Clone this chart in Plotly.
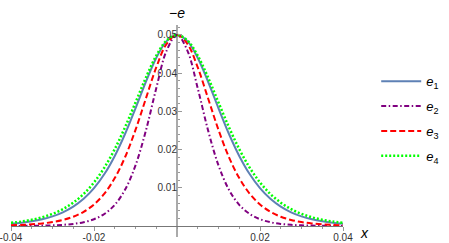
import plotly.graph_objects as go

x_vals = [-0.04, -0.0375, -0.035, -0.0325, -0.03, -0.0275, -0.025, -0.0225, -0.02, -0.0175,
          -0.015, -0.0125, -0.01, -0.0075, -0.005, -0.0025, 0.0, 0.0025, 0.005, 0.0075, 0.01,
          0.0125, 0.015, 0.0175, 0.02, 0.0225, 0.025, 0.0275, 0.03, 0.0325, 0.035, 0.0375, 0.04]

e1 = [0.00060, 0.00086, 0.00124, 0.00177, 0.00252, 0.00358, 0.00507, 0.00711, 0.00990, 0.01359,
      0.01834, 0.02414, 0.03080, 0.03772, 0.04397, 0.04839, 0.05, 0.04839, 0.04397, 0.03772,
      0.03080, 0.02414, 0.01834, 0.01359, 0.00990, 0.00711, 0.00507, 0.00358, 0.00252, 0.00177,
      0.00124, 0.00086, 0.00060]
e2 = [0.00002, 0.00003, 0.00005, 0.00010, 0.00017, 0.00031, 0.00055, 0.00099, 0.00178, 0.00315,
      0.00554, 0.00953, 0.01586, 0.02496, 0.03603, 0.04591, 0.05, 0.04591, 0.03603, 0.02496,
      0.01586, 0.00953, 0.00554, 0.00315, 0.00178, 0.00099, 0.00055, 0.00031, 0.00017, 0.00010,
      0.00005, 0.00003, 0.00002]
e3 = [0.00018, 0.00028, 0.00043, 0.00067, 0.00103, 0.00158, 0.00243, 0.00372, 0.00564, 0.00848,
      0.01253, 0.01806, 0.02515, 0.03336, 0.04149, 0.04767, 0.05, 0.04767, 0.04149, 0.03336,
      0.02515, 0.01806, 0.01253, 0.00848, 0.00564, 0.00372, 0.00243, 0.00158, 0.00103, 0.00067,
      0.00043, 0.00028, 0.00018]
e4 = [0.00083, 0.00116, 0.00163, 0.00228, 0.00318, 0.00442, 0.00611, 0.00838, 0.01140, 0.01529,
      0.02013, 0.02590, 0.03232, 0.03882, 0.04456, 0.04856, 0.05, 0.04856, 0.04456, 0.03882,
      0.03232, 0.02590, 0.02013, 0.01529, 0.01140, 0.00838, 0.00611, 0.00442, 0.00318, 0.00228,
      0.00163, 0.00116, 0.00083]

series_names = ["<i>e</i><sub>1</sub>", "<i>e</i><sub>2</sub>", "<i>e</i><sub>3</sub>", "<i>e</i><sub>4</sub>"]
series_values = [e1, e2, e3, e4]
series_colors = ["#5E81B5", "#800080", "#FF0000", "#00FF00"]
series_dash = ["solid", "5px,2.5px,1.5px,2.5px", "6px,3px", "2px,2px"]
series_width = [2, 2, 2, 2.5]

x_tick_vals = [-0.04, -0.02, 0.02, 0.04]
x_tick_text = ["-0.04", "-0.02", "0.02", "0.04"]
y_tick_vals = [0.01, 0.02, 0.03, 0.04, 0.05]
y_tick_text = ["0.01", "0.02", "0.03", "0.04", "0.05"]

fig = go.Figure()
for i, (name, vals, col, dash, w) in enumerate(zip(series_names, series_values, series_colors,
                                                    series_dash, series_width)):
    fig.add_trace(go.Scatter(x=x_vals, y=vals, mode="lines", name=name, legendgroup=f"g{i}",
                             line=dict(color=col, dash=dash, width=w, shape="spline", smoothing=1.0)))

fig.add_shape(type="line", xref="x", yref="paper", x0=0, x1=0, y0=-0.055, y1=1,
              line=dict(color="#aaaaaa", width=2), layer="below")

fig.update_layout(
    width=449, height=243,
    margin=dict(l=11, r=106, t=25, b=17, autoexpand=False),
    paper_bgcolor="white", plot_bgcolor="white",
    font=dict(family="Liberation Sans, Arial, sans-serif", size=10, color="#333333"),
    showlegend=True,
    legend=dict(x=1.1, y=0.795, xanchor="left", yanchor="top",
                font=dict(size=13, color="#000000"), bgcolor="rgba(0,0,0,0)",
                itemwidth=40, tracegroupgap=5),
    xaxis=dict(range=[-0.04, 0.04], showgrid=False, zeroline=False, automargin=False,
               showline=True, linecolor="#777777", linewidth=1,
               tickvals=x_tick_vals, ticktext=x_tick_text, ticklabeloverflow="allow",
               ticklabelstandoff=-2,
               ticks="outside", ticklen=4, tickcolor="#999999", tickwidth=1,
               minor=dict(dtick=0.005, ticks="outside", ticklen=2, tickcolor="#999999"),
               anchor="y", fixedrange=True),
    yaxis=dict(range=[0, 0.0526], showgrid=False, zeroline=False, automargin=False,
               showline=False, anchor="free", position=0.5,
               tickvals=y_tick_vals, ticktext=y_tick_text,
               ticks="inside", ticklen=4, tickcolor="#999999", tickwidth=1,
               minor=dict(dtick=0.002, ticks="inside", ticklen=2, tickcolor="#999999"),
               fixedrange=True),
    annotations=[
        dict(x=0, y=1.03, xref="x", yref="paper", text="−<i>e</i>", showarrow=False,
             xanchor="center", yanchor="bottom", yshift=-4, font=dict(size=14, color="#000000")),
        dict(x=1, y=0, xref="paper", yref="paper", text="<i>x</i>", showarrow=False,
             xanchor="left", yanchor="middle", xshift=15, yshift=-7,
             font=dict(size=14, color="#000000")),
    ],
)

fig.write_html("out.html", config={"displayModeBar": False},
               post_script="document.body.style.margin='0px';document.body.style.overflow='hidden';")
